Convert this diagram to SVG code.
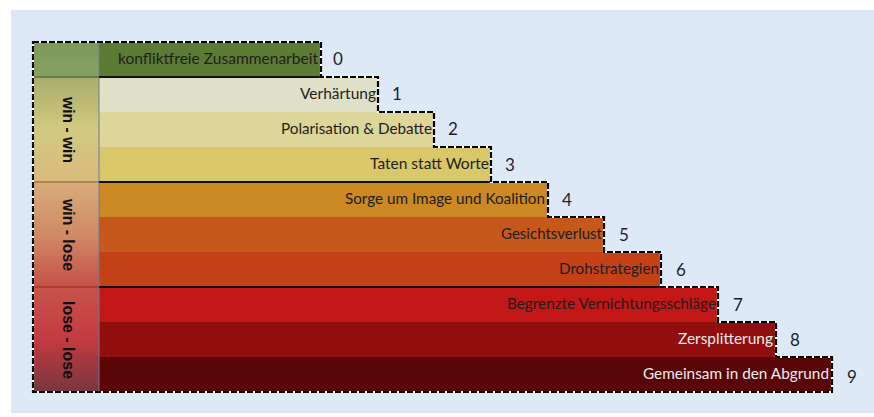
<svg xmlns="http://www.w3.org/2000/svg" width="874" height="417" viewBox="0 0 874 417">
<defs>
<linearGradient id="gWin" x1="0" y1="0" x2="0" y2="1">
<stop offset="0" stop-color="#a7ad6c"/><stop offset="0.5" stop-color="#d3c97f"/><stop offset="1" stop-color="#d9b97f"/>
</linearGradient>
<linearGradient id="gWL" x1="0" y1="0" x2="0" y2="1">
<stop offset="0" stop-color="#d8ac7a"/><stop offset="0.5" stop-color="#d08a66"/><stop offset="1" stop-color="#c65048"/>
</linearGradient>
<linearGradient id="gLL" x1="0" y1="0" x2="0" y2="1">
<stop offset="0" stop-color="#c8544c"/><stop offset="0.5" stop-color="#c43a40"/><stop offset="1" stop-color="#76383e"/>
</linearGradient>
<linearGradient id="g0" x1="0" y1="0" x2="0" y2="1">
<stop offset="0" stop-color="#7b9a5a"/><stop offset="1" stop-color="#86a064"/>
</linearGradient>
</defs>
<style>
.lbl{font-family:Lato,"Open Sans","Liberation Sans",sans-serif;font-size:15px;fill:#1e1e1e;text-anchor:end}
.lw{fill:#ececec}
.num{font-family:Lato,"Open Sans","Liberation Sans",sans-serif;font-size:17px;fill:#1e1e2a}
.side{font-family:"Liberation Sans",Arial,sans-serif;font-size:16px;font-weight:bold;fill:#111;text-anchor:middle}
.sep{stroke:#111;stroke-width:2}
</style>
<rect x="11" y="10" width="863" height="403" fill="#dde9f7"/>
<g id="rows">
<rect id="row0" x="99" y="42" width="222" height="35" fill="#5b7b35"/>
<rect id="row1" x="99" y="77" width="279" height="35" fill="#dfe0c7"/>
<rect id="row2" x="99" y="112" width="335" height="35" fill="#ddd59a"/>
<rect id="row3" x="99" y="147" width="392" height="35" fill="#d8c869"/>
<rect id="row4" x="99" y="182" width="449" height="35" fill="#cc8822"/>
<rect id="row5" x="99" y="217" width="505" height="35" fill="#c7581c"/>
<rect id="row6" x="99" y="252" width="562" height="35" fill="#c44118"/>
<rect id="row7" x="99" y="287" width="619" height="35" fill="#c41717"/>
<rect id="row8" x="99" y="322" width="677" height="35" fill="#910e0f"/>
<rect id="row9" x="99" y="357" width="733" height="35" fill="#590405"/>
</g>
<g id="side">
<rect x="34" y="42" width="65" height="35" fill="url(#g0)"/>
<rect x="34" y="77" width="65" height="105" fill="url(#gWin)"/>
<rect x="34" y="182" width="65" height="105" fill="url(#gWL)"/>
<rect x="34" y="287" width="65" height="105" fill="url(#gLL)"/>
<line x1="34" y1="77" x2="99" y2="77" stroke="#5c6e3a" stroke-width="1.5"/>
<line x1="34" y1="182" x2="99" y2="182" stroke="#a07840" stroke-width="1.5"/>
<line x1="34" y1="287" x2="99" y2="287" stroke="#a03a30" stroke-width="1.5"/>
<line x1="99" y1="42" x2="99" y2="392" stroke="#6a7c98" stroke-width="1"/>
<text class="side" transform="translate(63 130) rotate(90)" textLength="66" lengthAdjust="spacingAndGlyphs">win - win</text>
<text class="side" transform="translate(63 235) rotate(90)" textLength="72" lengthAdjust="spacingAndGlyphs">win - lose</text>
<text class="side" transform="translate(63 340) rotate(90)" textLength="78" lengthAdjust="spacingAndGlyphs">lose - lose</text>
</g>
<g id="connectors">
<line class="sep" x1="99" y1="77" x2="321" y2="77" stroke-width="1"/>
<line class="sep" x1="99" y1="182" x2="491" y2="182"/>
<line class="sep" x1="99" y1="287" x2="661" y2="287"/>
<path d="M33 42H321V77H378V112H434V147H491V182H548V217H604V252H661V287H718V322H776V357H832V392H33Z" fill="none" stroke="#fff" stroke-width="2.2"/>
<path d="M33 42H321V77H378V112H434V147H491V182H548V217H604V252H661V287H718V322H776V357H832V392H33Z" fill="none" stroke="#000" stroke-width="2.2" stroke-dasharray="6 2"/>
</g>
<g id="labels">
<text class="lbl" x="318" y="64" textLength="200" lengthAdjust="spacingAndGlyphs">konfliktfreie Zusammenarbeit</text>
<text class="lbl" x="376" y="99" textLength="76" lengthAdjust="spacingAndGlyphs">Verhärtung</text>
<text class="lbl" x="432" y="134" textLength="151" lengthAdjust="spacingAndGlyphs">Polarisation &amp; Debatte</text>
<text class="lbl" x="489" y="169" textLength="119" lengthAdjust="spacingAndGlyphs">Taten statt Worte</text>
<text class="lbl" x="545" y="204" textLength="200" lengthAdjust="spacingAndGlyphs">Sorge um Image und Koalition</text>
<text class="lbl" x="602" y="239" textLength="101" lengthAdjust="spacingAndGlyphs">Gesichtsverlust</text>
<text class="lbl" x="659" y="274" textLength="100" lengthAdjust="spacingAndGlyphs">Drohstrategien</text>
<text class="lbl" x="716" y="309" textLength="209" lengthAdjust="spacingAndGlyphs">Begrenzte Vernichtungsschläge</text>
<text class="lbl lw" x="773" y="344" textLength="95" lengthAdjust="spacingAndGlyphs">Zersplitterung</text>
<text class="lbl lw" x="829" y="379" textLength="186" lengthAdjust="spacingAndGlyphs">Gemeinsam in den Abgrund</text>
</g>
<g id="numbers">
<text class="num" x="333" y="65">0</text>
<text class="num" x="392" y="100">1</text>
<text class="num" x="448" y="135">2</text>
<text class="num" x="505" y="171">3</text>
<text class="num" x="562" y="206">4</text>
<text class="num" x="619" y="241">5</text>
<text class="num" x="676" y="276">6</text>
<text class="num" x="733" y="311">7</text>
<text class="num" x="790" y="346">8</text>
<text class="num" x="847" y="383">9</text>
</g>
</svg>
